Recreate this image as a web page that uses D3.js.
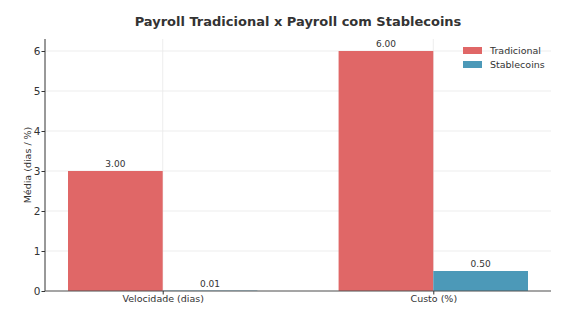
<!DOCTYPE html>
<html>
<head>
<meta charset="utf-8">
<script src="https://cdn.jsdelivr.net/npm/d3@7"></script>
<style>
  body { margin: 0; background: #fff; }
  text { font-family: "DejaVu Sans", sans-serif; fill: #333; }
</style>
</head>
<body>
<div id="chart"></div>
<script>
// chart data
var categories = ["Velocidade (dias)", "Custo (%)"];
var seriesNames = ["Tradicional", "Stablecoins"];
var tradicional = [3.00, 6.00];
var stablecoins = [0.01, 0.50];
var yTicks = [0, 1, 2, 3, 4, 5, 6];

var colors = ["#e06767", "#4c99b8"];

var w = 588, h = 313;
// plot area edges (note: "top" is reserved on window, so prefix these)
var plotLeft = 45, plotRight = 551, plotTop = 39, plotBottom = 291;

var svg = d3.select("#chart").append("svg")
  .attr("width", w)
  .attr("height", h);

// x is numeric like matplotlib: categories at 0 and 1, bar width 0.35
var barW = 0.35;
var x = d3.scaleLinear().domain([-0.435, 1.435]).range([plotLeft, plotRight]);
var y = d3.scaleLinear().domain([0, 6.3]).range([plotBottom, plotTop]);

// grid
svg.append("g").selectAll("line")
  .data(yTicks)
  .enter().append("line")
  .attr("x1", plotLeft).attr("x2", plotRight)
  .attr("y1", function(d) { return y(d); })
  .attr("y2", function(d) { return y(d); })
  .attr("stroke", "#e8e8e8")
  .attr("stroke-width", 0.8);

svg.append("g").selectAll("line")
  .data(categories)
  .enter().append("line")
  .attr("x1", function(d, i) { return x(i); })
  .attr("x2", function(d, i) { return x(i); })
  .attr("y1", plotTop).attr("y2", plotBottom)
  .attr("stroke", "#e8e8e8")
  .attr("stroke-width", 0.8);

// bars
var allSeries = [tradicional, stablecoins];
allSeries.forEach(function(vals, s) {
  var g = svg.append("g");
  g.selectAll("rect")
    .data(vals)
    .enter().append("rect")
    .attr("x", function(d, i) { return x(i - barW + s * barW); })
    .attr("width", x(barW) - x(0))
    .attr("y", function(d) { return y(d); })
    .attr("height", function(d) { return y(0) - y(d); })
    .attr("fill", colors[s]);

  g.selectAll("text")
    .data(vals)
    .enter().append("text")
    .attr("x", function(d, i) { return x(i - barW / 2 + s * barW); })
    .attr("y", function(d) { return y(d) - 4; })
    .attr("text-anchor", "middle")
    .attr("font-size", 9)
    .text(function(d) { return d.toFixed(2); });
});

// axes
var yAxis = d3.axisLeft(y).tickValues(yTicks).tickSize(3.5).tickPadding(1).tickFormat(d3.format("d"));
var gy = svg.append("g").attr("transform", "translate(" + plotLeft + ",0)").call(yAxis);
gy.select(".domain").attr("stroke", "#333").attr("d", "M0," + plotTop + "V" + plotBottom);
gy.selectAll(".tick line").attr("stroke", "#333");
gy.selectAll(".tick text").attr("font-size", 10.5).attr("fill", "#333")
  .style("font-family", "DejaVu Sans, sans-serif");

var xAxis = d3.axisBottom(x).tickValues([0, 1]).tickSize(3.5).tickPadding(1)
  .tickFormat(function(d) { return categories[d]; });
var gx = svg.append("g").attr("transform", "translate(0," + plotBottom + ")").call(xAxis);
gx.select(".domain").attr("stroke", "#555").attr("d", "M" + plotLeft + ",0H" + plotRight);
gx.selectAll(".tick line").attr("stroke", "#333");
gx.selectAll(".tick text").attr("font-size", 9.5).attr("fill", "#333")
  .style("font-family", "DejaVu Sans, sans-serif");

// labels
svg.append("text")
  .attr("x", (plotLeft + plotRight) / 2)
  .attr("y", 26)
  .attr("text-anchor", "middle")
  .attr("font-size", 13)
  .attr("font-weight", "bold")
  .text("Payroll Tradicional x Payroll com Stablecoins");

svg.append("text")
  .attr("transform", "translate(31," + ((plotTop + plotBottom) / 2) + ") rotate(-90)")
  .attr("text-anchor", "middle")
  .attr("font-size", 9.5)
  .text("Média (dias / %)");

// legend
var legend = svg.append("g").attr("transform", "translate(463,47)");
seriesNames.forEach(function(name, i) {
  legend.append("rect")
    .attr("x", 0).attr("y", i * 14)
    .attr("width", 19).attr("height", 7)
    .attr("fill", colors[i]);
  legend.append("text")
    .attr("x", 27).attr("y", i * 14 + 7)
    .attr("font-size", 9.5)
    .text(name);
});
</script>
</body>
</html>
